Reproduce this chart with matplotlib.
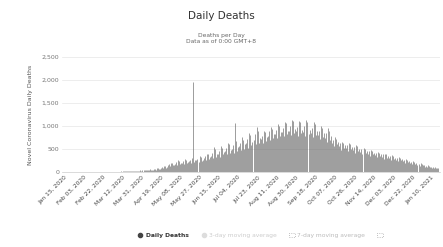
import datetime as dt
import matplotlib
matplotlib.use("Agg")
import matplotlib.pyplot as plt
from matplotlib.lines import Line2D
from matplotlib.patches import Patch

TITLE = "Daily Deaths"
SUBTITLE = "Deaths per Day\nData as of 0:00 GMT+8"
Y_LABEL = "Novel Coronavirus Daily Deaths"

START = dt.date(2020, 1, 15)
DATA_START = dt.date(2020, 3, 1)

# daily deaths, one row per week starting Mar 1, 2020
weekly_deaths = [
    [0, 2, 3, 1, 4, 5, 3],
    [6, 4, 8, 10, 7, 12, 9],
    [12, 15, 10, 18, 20, 14, 16],
    [20, 25, 18, 30, 28, 22, 26],
    [30, 35, 28, 40, 38, 32, 36],
    [40, 48, 36, 55, 50, 42, 45],
    [60, 70, 52, 80, 75, 58, 66],
    [90, 110, 80, 130, 120, 95, 100],
    [140, 170, 120, 200, 190, 150, 160],
    [180, 210, 150, 250, 230, 170, 200],
    [200, 240, 170, 280, 260, 190, 220],
    [230, 260, 190, 310, 1950, 220, 250],
    [250, 290, 210, 340, 320, 240, 270],
    [300, 340, 250, 400, 380, 280, 320],
    [350, 420, 300, 540, 500, 330, 380],
    [400, 460, 330, 560, 520, 380, 430],
    [450, 520, 380, 640, 600, 420, 480],
    [500, 580, 420, 1065, 680, 460, 540],
    [560, 640, 470, 760, 700, 500, 600],
    [620, 720, 520, 840, 800, 580, 660],
    [700, 820, 600, 980, 900, 640, 740],
    [720, 780, 640, 900, 860, 680, 760],
    [780, 880, 700, 980, 940, 740, 820],
    [820, 920, 740, 1040, 1000, 780, 860],
    [860, 960, 780, 1090, 1060, 820, 900],
    [900, 1000, 800, 1130, 1100, 850, 940],
    [880, 980, 790, 1100, 1080, 840, 920],
    [870, 990, 780, 1120, 1090, 830, 910],
    [850, 960, 760, 1080, 1050, 810, 890],
    [800, 900, 720, 1000, 960, 760, 840],
    [740, 840, 660, 960, 900, 700, 780],
    [640, 700, 560, 760, 720, 600, 650],
    [560, 620, 480, 660, 640, 520, 580],
    [520, 580, 450, 620, 600, 490, 540],
    [480, 540, 420, 580, 560, 450, 500],
    [440, 500, 380, 520, 500, 410, 460],
    [400, 450, 350, 480, 460, 380, 420],
    [360, 410, 320, 440, 420, 340, 380],
    [330, 380, 290, 400, 380, 310, 350],
    [300, 340, 260, 360, 340, 280, 310],
    [260, 300, 230, 320, 300, 250, 280],
    [230, 260, 200, 280, 260, 210, 240],
    [190, 220, 170, 240, 220, 180, 200],
    [150, 180, 130, 190, 170, 140, 160],
    [110, 130, 100, 140, 120, 105, 115],
    [90, 110, 80, 100, 95, 85, 90],
]

y_ticks = [0, 500, 1000, 1500, 2000, 2500]
tick_labels = [
    "Jan 15, 2020", "Feb 03, 2020", "Feb 22, 2020", "Mar 12, 2020",
    "Mar 31, 2020", "Apr 19, 2020", "May 08, 2020", "May 27, 2020",
    "Jun 15, 2020", "Jul 04, 2020", "Jul 23, 2020", "Aug 11, 2020",
    "Aug 30, 2020", "Sep 18, 2020", "Oct 07, 2020", "Oct 26, 2020",
    "Nov 14, 2020", "Dec 03, 2020", "Dec 22, 2020", "Jan 10, 2021",
]

deaths = [v for week in weekly_deaths for v in week]
offset = (DATA_START - START).days
days = [offset + i for i in range(len(deaths))]
tick_pos = [(dt.datetime.strptime(s, "%b %d, %Y").date() - START).days for s in tick_labels]

fig = plt.figure(figsize=(4.43, 2.47), dpi=100)
ax = fig.add_axes([0.14, 0.304, 0.853, 0.465])

# thin bars so the dense daily series reads as dark stripes
ax.vlines(days, 0, deaths, color="#666666", linewidth=0.45)

ax.set_xlim(-2, days[-1] + 2)
ax.set_ylim(0, 2500)
ax.set_yticks(y_ticks)
ax.set_yticklabels([f"{v:,}" for v in y_ticks], fontsize=4.5, color="#777777")
ax.set_xticks(tick_pos)
ax.set_xticklabels(tick_labels, rotation=45, ha="right", rotation_mode="anchor",
                   fontsize=4.3, color="#444444")
ax.tick_params(axis="both", length=0, pad=2)
ax.grid(axis="y", color="#e6e6e6", linewidth=0.5)
ax.set_axisbelow(True)
for s in ["top", "right", "left"]:
    ax.spines[s].set_visible(False)
ax.spines["bottom"].set_color("#cccccc")
ax.spines["bottom"].set_linewidth(0.5)
ax.set_ylabel(Y_LABEL, fontsize=4.5, color="#555555", labelpad=6)

fig.text(0.5, 0.935, TITLE, ha="center", va="center", fontsize=7.5, color="#333333")
fig.text(0.5, 0.845, SUBTITLE, ha="center", va="center", fontsize=4.3,
         color="#666666", linespacing=1.2)

handles = [
    Line2D([], [], marker="o", color="#444444", linestyle="none", markersize=3),
    Line2D([], [], marker="o", color="#dddddd", linestyle="none", markersize=3),
    Patch(facecolor="none", edgecolor="#aaaaaa", linestyle=":", linewidth=0.6),
    Patch(facecolor="none", edgecolor="#aaaaaa", linestyle=":", linewidth=0.6),
]
labels = ["Daily Deaths", "3-day moving average", "7-day moving average", ""]
leg = fig.legend(handles, labels, loc="center", bbox_to_anchor=(0.59, 0.045), ncol=4,
                 frameon=False, fontsize=4.3, handlelength=1.0, handletextpad=0.4,
                 columnspacing=2.0)
for t, c in zip(leg.get_texts(), ["#333333", "#cccccc", "#bbbbbb", "#bbbbbb"]):
    t.set_color(c)
leg.get_texts()[0].set_fontweight("bold")

fig.savefig("out.png", dpi=100)
